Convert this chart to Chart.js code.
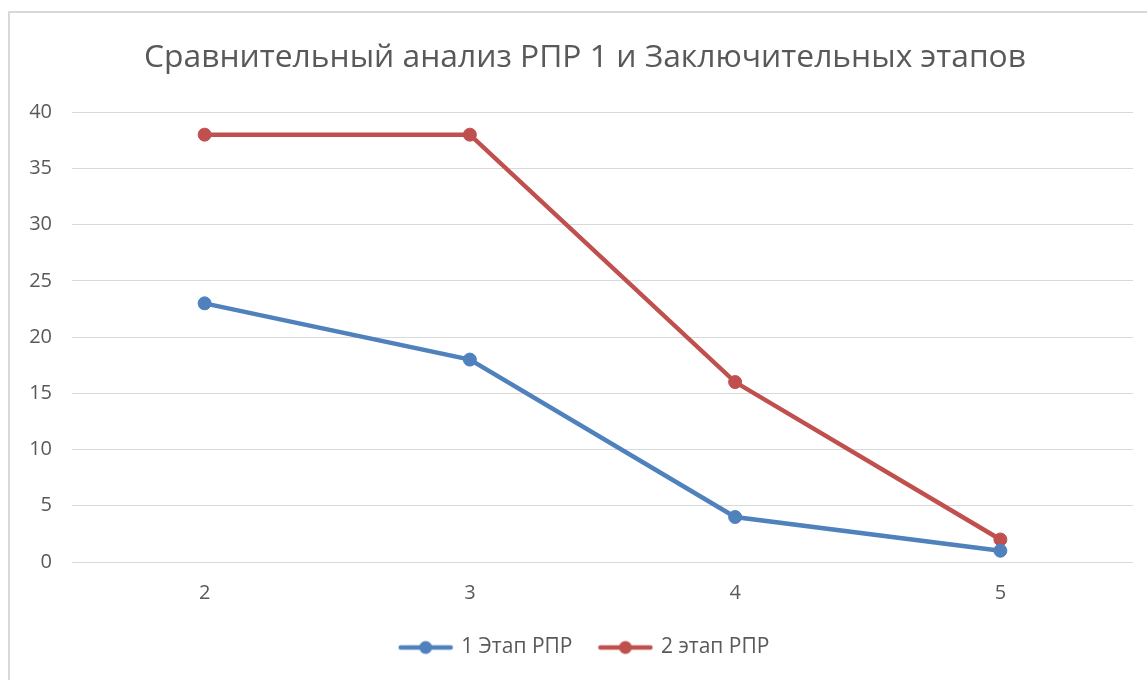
<!DOCTYPE html>
<html lang="ru">
<head>
  <meta charset="UTF-8">
  <title>Сравнительный анализ РПР 1 и Заключительных этапов</title>
  <script src="https://cdn.jsdelivr.net/npm/chart.js"></script>
  <style>
    html, body { margin: 0; padding: 0; background: #fff; overflow: hidden; }
    .frame {
      position: absolute;
      left: 8px;
      top: 11px;
      width: 1150px;
      height: 700px;
      border: 2px solid #d9d9d9;
      background: #fff;
    }
    .frame canvas { position: absolute; left: 0; top: 0; }
  </style>
</head>
<body>

<div class="frame">
  <canvas id="chart" width="1150" height="667"></canvas>
</div>

<script>
const categories = ['2', '3', '4', '5'];
const stage1 = [23, 18, 4, 1];
const stage2 = [38, 38, 16, 2];
const seriesNames = ['1 Этап РПР', '2 этап РПР'];
const seriesColors = ['#4f81bd', '#c0504d'];

const textColor = '#595959';
const fontFamily = "'Open Sans', 'Liberation Sans', sans-serif";

// legend icon: short line with a dot in the middle, like the spreadsheet legend
function legendIcon(color) {
  const c = document.createElement('canvas');
  c.width = 56; c.height = 16;
  const g = c.getContext('2d');
  g.strokeStyle = color;
  g.lineWidth = 4.5;
  g.lineCap = 'round';
  g.beginPath();
  g.moveTo(3, 8);
  g.lineTo(53, 8);
  g.stroke();
  g.fillStyle = color;
  g.beginPath();
  g.arc(28, 8, 6.5, 0, Math.PI * 2);
  g.fill();
  return c;
}

const icons = seriesColors.map(legendIcon);

new Chart(document.getElementById('chart'), {
  type: 'line',
  data: {
    labels: categories,
    datasets: [stage1, stage2].map((values, i) => ({
      label: seriesNames[i],
      data: values,
      borderColor: seriesColors[i],
      backgroundColor: seriesColors[i],
      borderWidth: 4.5,
      pointRadius: 6.5,
      pointBorderWidth: 1,
      pointHoverRadius: 6.5,
      tension: 0,
      fill: false
    }))
  },
  options: {
    responsive: false,
    animation: false,
    layout: { padding: { left: 0, right: 0, top: 0, bottom: 12 } },
    plugins: {
      title: {
        display: true,
        text: 'Сравнительный анализ РПР 1 и Заключительных этапов',
        color: textColor,
        font: { family: fontFamily, size: 31.8, weight: 'normal' },
        padding: { top: 26, bottom: 35 }
      },
      legend: {
        position: 'bottom',
        labels: {
          color: textColor,
          font: { family: fontFamily, size: 21 },
          usePointStyle: true,
          pointStyleWidth: 50,
          padding: 28,
          generateLabels(chart) {
            return chart.data.datasets.map((ds, i) => ({
              text: ds.label,
              fillStyle: ds.borderColor,
              strokeStyle: ds.borderColor,
              lineWidth: 0,
              pointStyle: icons[i],
              fontColor: textColor,
              hidden: false,
              datasetIndex: i
            }));
          }
        }
      },
      tooltip: { enabled: false }
    },
    scales: {
      x: {
        offset: true,
        grid: { display: false },
        border: { display: false },
        afterFit(scale) { scale.height = 47; },
        ticks: {
          color: textColor,
          font: { family: fontFamily, size: 20 },
          padding: 11
        }
      },
      y: {
        min: 0,
        max: 40,
        grid: { color: '#d9d9d9', lineWidth: 1, drawTicks: false },
        border: { display: false },
        afterFit(scale) { scale.width = 62; },
        ticks: {
          stepSize: 5,
          color: textColor,
          font: { family: fontFamily, size: 20 },
          padding: 20
        }
      },
      // empty right-hand margin so the plot ends where the reference does
      yRight: {
        type: 'linear',
        position: 'right',
        grid: { display: false },
        border: { display: false },
        ticks: { display: false },
        afterFit(scale) { scale.width = 27; }
      }
    }
  }
});
</script>

</body>
</html>
